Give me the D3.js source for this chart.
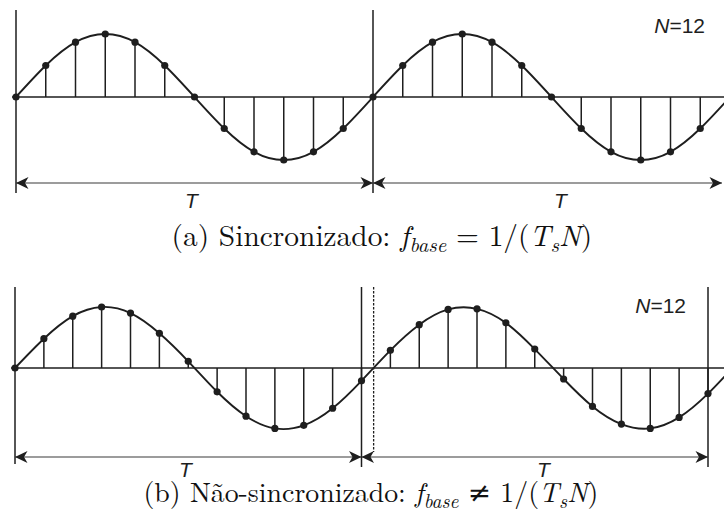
<!DOCTYPE html>
<html>
<head>
<meta charset="utf-8">
<script src="https://cdn.jsdelivr.net/npm/d3@7/dist/d3.min.js"></script>
<style>
  html, body { margin: 0; padding: 0; background: #fff; }
  svg { display: block; }
</style>
</head>
<body>
<svg id="fig" width="724" height="531"></svg>
<script>
// Samples per window
const N = 12;

// (a) synchronised: the sine completes exactly one cycle per window of N samples
const samplesA = [0, 0.5, 0.87, 1, 0.87, 0.5, 0, -0.5, -0.87, -1, -0.87, -0.5,
                  0, 0.5, 0.87, 1, 0.87, 0.5, 0, -0.5, -0.87, -1, -0.87, -0.5, 0];
// (b) not synchronised: the sine period is slightly longer than the window
const samplesB = [0, 0.48, 0.85, 1, 0.9, 0.57, 0.11, -0.39, -0.79, -0.99, -0.94, -0.66,
                  -0.21, 0.29, 0.71, 0.96, 0.97, 0.74, 0.31, -0.18, -0.63, -0.92, -0.99, -0.81,
                  -0.42, 0.08];

// Window borders (in sample index units)
const windowsA = [0, 12, 24];
const windowsB = [0, 12, 24];
// Zero crossing of the sine at the end of its first period in (b)
const periodEndB = 12.42;

// Texts
const periodLabel = "T";
const tLabelPos = [5.9, 18.3];
const captions = [
  { tag: "(a) Sincronizado: ", rel: "=" },
  { tag: "(b) Não-sincronizado: ", rel: "≠" }
];

const W = 724, H = 531;
const svg = d3.select("#fig");
const ink = "#1e1e1e";
const sans = "'Liberation Sans', Arial, sans-serif";
const serif = "'Latin Modern Roman', 'CMU Serif', 'DejaVu Serif', serif";
const labelSize = 21;

// Arrowhead marker (concave, "stealth" style)
const defs = svg.append("defs");
defs.append("marker")
  .attr("id", "arr")
  .attr("viewBox", "-13 -7 14 14")
  .attr("refX", 0).attr("refY", 0)
  .attr("markerWidth", 14).attr("markerHeight", 14)
  .attr("markerUnits", "userSpaceOnUse")
  .attr("orient", "auto-start-reverse")
  .append("path")
  .attr("d", "M0,0 L-12.5,-6 L-9,0 L-12.5,6 Z")
  .attr("fill", ink);

function panel(cfg) {
  const g = svg.append("g");
  const x = d3.scaleLinear().domain([0, 24]).range(cfg.xRange);
  const y = d3.scaleLinear().domain([-1, 1]).range([cfg.axisY + cfg.amp, cfg.axisY - cfg.amp]);
  const pts = cfg.samples.map((v, i) => [i, v]);

  // horizontal axis
  g.append("line")
    .attr("x1", x(0) - 4).attr("x2", W)
    .attr("y1", y(0)).attr("y2", y(0))
    .attr("stroke", ink).attr("stroke-width", 1.6);

  // window borders
  cfg.windows.forEach((k, i) => {
    g.append("line")
      .attr("x1", x(k)).attr("x2", x(k))
      .attr("y1", cfg.vTop).attr("y2", cfg.vBottom[i])
      .attr("stroke", ink).attr("stroke-width", 1.5);
  });
  if (cfg.dashed != null) {
    g.append("line")
      .attr("x1", x(cfg.dashed)).attr("x2", x(cfg.dashed))
      .attr("y1", cfg.vTop).attr("y2", cfg.dashBottom)
      .attr("stroke", ink).attr("stroke-width", 1.3)
      .attr("stroke-dasharray", "2.5,1.5");
  }

  // stems
  g.selectAll("line.stem").data(pts).join("line")
    .attr("class", "stem")
    .attr("x1", d => x(d[0])).attr("x2", d => x(d[0]))
    .attr("y1", y(0)).attr("y2", d => y(d[1]))
    .attr("stroke", ink).attr("stroke-width", 1.5);

  // continuous signal through the samples
  const line = d3.line().x(d => x(d[0])).y(d => y(d[1])).curve(d3.curveNatural);
  g.append("path").attr("d", line(pts))
    .attr("fill", "none").attr("stroke", ink).attr("stroke-width", 1.9);

  // sample dots
  g.selectAll("circle").data(pts).join("circle")
    .attr("cx", d => x(d[0])).attr("cy", d => y(d[1]))
    .attr("r", 3.6).attr("fill", ink);

  // period arrows
  for (let i = 0; i < cfg.windows.length - 1; i++) {
    const a = x(cfg.windows[i]);
    const b = Math.min(x(cfg.windows[i + 1]), W - 2);
    g.append("line")
      .attr("x1", a).attr("x2", b)
      .attr("y1", cfg.arrowY).attr("y2", cfg.arrowY)
      .attr("stroke", "#3a3a3a").attr("stroke-width", 1.1)
      .attr("marker-start", "url(#arr)")
      .attr("marker-end", "url(#arr)");
  }

  // T labels
  tLabelPos.forEach(k => {
    g.append("text")
      .attr("x", x(k)).attr("y", cfg.tY)
      .attr("text-anchor", "middle")
      .attr("font-family", sans).attr("font-style", "italic")
      .attr("font-size", labelSize).attr("fill", ink)
      .text(periodLabel);
  });

  // N label
  const nt = g.append("text")
    .attr("x", cfg.nX).attr("y", cfg.nY)
    .attr("text-anchor", "end")
    .attr("font-family", sans).attr("font-size", labelSize).attr("fill", ink);
  nt.append("tspan").attr("font-style", "italic").text("N");
  nt.append("tspan").text("=" + N);

  // caption
  const c = svg.append("text")
    .attr("y", cfg.capY)
    .attr("font-family", serif).attr("font-size", 20).attr("fill", "#111");
  c.append("tspan").text(cfg.caption.tag);
  c.append("tspan").attr("font-style", "italic").text("f");
  c.append("tspan").attr("font-style", "italic").attr("font-size", 14).attr("dy", 4).text("base");
  c.append("tspan").attr("dy", -4).text(" " + cfg.caption.rel + " 1/(");
  c.append("tspan").attr("font-style", "italic").text("T");
  c.append("tspan").attr("font-style", "italic").attr("font-size", 14).attr("dy", 4).text("s");
  c.append("tspan").attr("font-style", "italic").attr("dy", -4).text("N");
  c.append("tspan").text(")");
  // size the caption to its column
  const w0 = c.node().getComputedTextLength();
  const s = cfg.capW / w0;
  c.attr("font-size", 20 * s);
  c.selectAll("tspan").each(function () {
    const t = d3.select(this);
    if (t.attr("font-size")) t.attr("font-size", 14 * s);
    if (t.attr("dy")) t.attr("dy", +t.attr("dy") * s);
  });
  c.attr("x", cfg.capX - cfg.capW / 2);
}

panel({
  samples: samplesA, windows: windowsA, xRange: [16, 730],
  axisY: 97, amp: 63, vTop: 10, vBottom: [193, 193, 193],
  arrowY: 183, tY: 208, nX: 705, nY: 33,
  caption: captions[0], capX: 382, capY: 246, capW: 421
});

panel({
  samples: samplesB, windows: windowsB, xRange: [15, 708],
  axisY: 368, amp: 61, vTop: 287, vBottom: [464, 467, 467],
  dashed: periodEndB, dashBottom: 452,
  arrowY: 457, tY: 477, nX: 686, nY: 313,
  caption: captions[1], capX: 371, capY: 502, capW: 455
});
</script>
</body>
</html>
